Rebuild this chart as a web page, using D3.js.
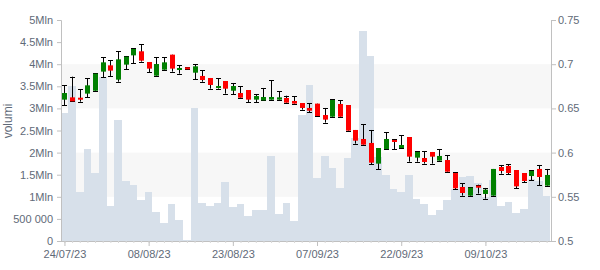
<!DOCTYPE html>
<html>
<head>
<meta charset="utf-8">
<script src="https://cdn.jsdelivr.net/npm/d3@7"></script>
<style>
    html, body { margin: 0; padding: 0; background: #fff; }
    #chart { width: 600px; height: 270px; }
    text { font-family: 'Liberation Sans', Arial, sans-serif; }
</style>
</head>
<body>
<div id="chart"></div>
<script>
// Trading days (dd/mm/yy)
const dates = [
    '24/07/23', '25/07/23', '26/07/23', '27/07/23', '28/07/23', '31/07/23',
    '01/08/23', '02/08/23', '03/08/23', '04/08/23', '07/08/23', '08/08/23',
    '09/08/23', '10/08/23', '11/08/23', '14/08/23', '15/08/23', '16/08/23',
    '17/08/23', '18/08/23', '21/08/23', '22/08/23', '23/08/23', '24/08/23',
    '25/08/23', '28/08/23', '29/08/23', '30/08/23', '31/08/23', '01/09/23',
    '04/09/23', '05/09/23', '06/09/23', '07/09/23', '08/09/23', '11/09/23',
    '12/09/23', '13/09/23', '14/09/23', '15/09/23', '18/09/23', '19/09/23',
    '20/09/23', '21/09/23', '22/09/23', '25/09/23', '26/09/23', '27/09/23',
    '28/09/23', '29/09/23', '02/10/23', '03/10/23', '04/10/23', '05/10/23',
    '06/10/23', '09/10/23', '10/10/23', '11/10/23', '12/10/23', '13/10/23',
    '16/10/23', '17/10/23', '18/10/23', '19/10/23'
];

const openPrices = [
    0.6599, 0.6625, 0.6621, 0.6667, 0.6700, 0.6916, 0.6987, 0.6825, 0.6995, 0.7100,
    0.7146, 0.7025, 0.6870, 0.6938, 0.7108, 0.6938, 0.6965, 0.6904, 0.6867, 0.6844,
    0.6731, 0.6810, 0.6700, 0.6674, 0.6708, 0.6599, 0.6591, 0.6599, 0.6599, 0.6618,
    0.6584, 0.6561, 0.6505, 0.6554, 0.6425, 0.6406, 0.6550, 0.6538, 0.6256, 0.6154,
    0.6109, 0.5875, 0.6041, 0.6143, 0.6052, 0.6176, 0.5943, 0.5939, 0.6007, 0.5909,
    0.5916, 0.5769, 0.5611, 0.5513, 0.5626, 0.5532, 0.5513, 0.5837, 0.5849, 0.5803,
    0.5769, 0.5735, 0.5815, 0.5626
];

const highPrices = [
    0.6761, 0.6859, 0.6716, 0.6840, 0.6900, 0.7078, 0.7047, 0.7146, 0.7093, 0.7180,
    0.7225, 0.7025, 0.7078, 0.7078, 0.7108, 0.6987, 0.6965, 0.7002, 0.6931, 0.6844,
    0.6840, 0.6810, 0.6784, 0.6750, 0.6708, 0.6663, 0.6731, 0.6821, 0.6697, 0.6644,
    0.6637, 0.6561, 0.6561, 0.6554, 0.6505, 0.6603, 0.6595, 0.6538, 0.6256, 0.6320,
    0.6256, 0.6052, 0.6229, 0.6154, 0.6195, 0.6176, 0.6018, 0.6018, 0.6007, 0.6041,
    0.5973, 0.5780, 0.5656, 0.5611, 0.5637, 0.5600, 0.5815, 0.5860, 0.5871, 0.5803,
    0.5769, 0.5803, 0.5860, 0.5815
];

const lowPrices = [
    0.6535, 0.6580, 0.6576, 0.6625, 0.6700, 0.6851, 0.6867, 0.6802, 0.6942, 0.7010,
    0.7029, 0.6908, 0.6870, 0.6938, 0.6916, 0.6893, 0.6942, 0.6829, 0.6802, 0.6723,
    0.6723, 0.6667, 0.6659, 0.6621, 0.6569, 0.6569, 0.6591, 0.6599, 0.6599, 0.6565,
    0.6554, 0.6486, 0.6455, 0.6414, 0.6339, 0.6406, 0.6406, 0.6248, 0.6101, 0.6090,
    0.5867, 0.5811, 0.6041, 0.6041, 0.6052, 0.5897, 0.5897, 0.5875, 0.5875, 0.5909,
    0.5784, 0.5584, 0.5513, 0.5513, 0.5536, 0.5479, 0.5513, 0.5762, 0.5754, 0.5596,
    0.5667, 0.5690, 0.5630, 0.5626
];

const closePrices = [
    0.6674, 0.6580, 0.6599, 0.6761, 0.6893, 0.7021, 0.6927, 0.7055, 0.7085, 0.7172,
    0.7040, 0.6950, 0.7002, 0.7021, 0.6950, 0.6957, 0.6942, 0.6976, 0.6821, 0.6765,
    0.6753, 0.6723, 0.6753, 0.6621, 0.6599, 0.6640, 0.6629, 0.6629, 0.6625, 0.6565,
    0.6554, 0.6505, 0.6474, 0.6414, 0.6373, 0.6595, 0.6406, 0.6248, 0.6135, 0.6090,
    0.5886, 0.6052, 0.6154, 0.6120, 0.6086, 0.5954, 0.6007, 0.5894, 0.5954, 0.5962,
    0.5784, 0.5596, 0.5543, 0.5603, 0.5603, 0.5581, 0.5815, 0.5792, 0.5769, 0.5618,
    0.5679, 0.5792, 0.5724, 0.5747
];

// Volumes in millions
const volumes = [
    2.89, 3.51, 1.11, 2.08, 1.54, 3.70, 0.80, 2.74, 1.36, 1.27,
    0.93, 1.11, 0.66, 0.41, 0.84, 0.48, 0.02, 3.00, 0.86, 0.79,
    0.86, 1.33, 0.77, 0.84, 0.57, 0.70, 0.70, 1.92, 0.61, 0.86,
    0.45, 2.85, 3.53, 1.42, 1.92, 1.65, 1.20, 1.88, 2.33, 4.75,
    4.19, 1.91, 1.49, 1.18, 1.11, 1.49, 0.95, 0.84, 0.59, 0.70,
    0.93, 1.18, 1.45, 1.47, 1.31, 0.99, 1.38, 0.79, 0.88, 0.63,
    0.72, 1.40, 1.35, 1.02
];

// Axis ticks
const volumeTicks = [0, 0.5, 1, 1.5, 2, 2.5, 3, 3.5, 4, 4.5, 5];
const priceTicks = [0.5, 0.55, 0.6, 0.65, 0.7, 0.75];
const dateTickIndex = [0, 11, 22, 33, 44, 55];
const priceBands = [[0.55, 0.6], [0.65, 0.7]];

class CandleChart {
    constructor() {
        this.left = 61;
        this.right = 552;
        this.top = 20;
        this.bottom = 241;
        this.textColor = '#5f6a78';
        this.lineColor = '#c0c0c0';
    }

    draw() {
        const svg = d3.select('#chart').append('svg')
            .attr('width', 600)
            .attr('height', 270);

        // Scales
        const x = d3.scaleLinear()
            .domain([-0.45, dates.length - 0.3])
            .range([this.left, this.right]);
        const yVol = d3.scaleLinear().domain([0, 5]).range([this.bottom, this.top]);
        const yPrice = d3.scaleLinear().domain([0.5, 0.75]).range([this.bottom, this.top]);
        const step = x(1) - x(0);

        svg.append('clipPath').attr('id', 'plot-clip')
            .append('rect')
            .attr('x', this.left)
            .attr('y', this.top)
            .attr('width', this.right - this.left)
            .attr('height', this.bottom - this.top);

        const plot = svg.append('g').attr('clip-path', 'url(#plot-clip)');

        // Background bands on price axis
        plot.selectAll('rect.band')
            .data(priceBands)
            .enter()
            .append('rect')
            .attr('class', 'band')
            .attr('x', this.left)
            .attr('width', this.right - this.left)
            .attr('y', d => yPrice(d[1]))
            .attr('height', d => yPrice(d[0]) - yPrice(d[1]))
            .attr('fill', '#f7f7f7');

        // Volume columns
        plot.selectAll('rect.vol')
            .data(volumes)
            .enter()
            .append('rect')
            .attr('class', 'vol')
            .attr('x', (d, i) => Math.round(x(i) - step / 2))
            .attr('width', (d, i) => Math.round(x(i) + step / 2) - Math.round(x(i) - step / 2))
            .attr('y', d => yVol(d))
            .attr('height', d => this.bottom - yVol(d))
            .attr('fill', '#d7e0ea')
            .attr('shape-rendering', 'crispEdges');

        // Candles
        const candles = plot.selectAll('g.candle')
            .data(dates.map((d, i) => ({
                i: i,
                open: openPrices[i],
                high: highPrices[i],
                low: lowPrices[i],
                close: closePrices[i]
            })))
            .enter()
            .append('g')
            .attr('class', 'candle')
            .attr('transform', d => `translate(${Math.round(x(d.i))},0)`);

        candles.append('line')
            .attr('x1', 0.5).attr('x2', 0.5)
            .attr('y1', d => yPrice(d.high))
            .attr('y2', d => yPrice(d.low))
            .attr('stroke', '#000')
            .attr('stroke-width', 1);

        ['high', 'low'].forEach(key => {
            candles.append('line')
                .attr('x1', -2).attr('x2', 3)
                .attr('y1', d => Math.round(yPrice(d[key])) + 0.5)
                .attr('y2', d => Math.round(yPrice(d[key])) + 0.5)
                .attr('stroke', '#000')
                .attr('stroke-width', 1);
        });

        candles.append('rect')
            .attr('x', -2)
            .attr('width', 5)
            .attr('y', d => yPrice(Math.max(d.open, d.close)))
            .attr('height', d => Math.max(2, Math.abs(yPrice(d.open) - yPrice(d.close))))
            .attr('fill', d => d.close >= d.open ? '#008000' : '#ff0000');

        // Left axis (volume)
        const leftAxis = svg.append('g')
            .attr('transform', `translate(${this.left},0)`)
            .call(d3.axisLeft(yVol)
                .tickValues(volumeTicks)
                .tickSize(4)
                .tickPadding(4)
                .tickFormat(v => v === 0 ? '0' : v === 0.5 ? '500 000' : `${v}Mln`));
        this.styleAxis(leftAxis);

        // Right axis (price)
        const rightAxis = svg.append('g')
            .attr('transform', `translate(${this.right - 1},0)`)
            .call(d3.axisRight(yPrice)
                .tickValues(priceTicks)
                .tickSize(5)
                .tickPadding(2)
                .tickFormat(v => String(+v.toFixed(2))));
        this.styleAxis(rightAxis);

        // Bottom axis: minor ticks for each day, labelled major ticks
        const minorAxis = svg.append('g')
            .attr('transform', `translate(0,${this.bottom})`)
            .call(d3.axisBottom(x)
                .tickValues(d3.range(dates.length))
                .tickSize(2)
                .tickFormat(''));
        this.styleAxis(minorAxis);
        minorAxis.selectAll('.tick line').attr('stroke', '#d8d8d8');
        minorAxis.select('.domain').attr('d', `M${this.left},0.5H${this.right}`);

        const bottomAxis = svg.append('g')
            .attr('transform', `translate(0,${this.bottom})`)
            .call(d3.axisBottom(x)
                .tickValues(dateTickIndex)
                .tickSize(5)
                .tickPadding(4)
                .tickFormat(i => dates[i]));
        this.styleAxis(bottomAxis);
        bottomAxis.select('.domain').remove();

        // Y-axis title
        svg.append('text')
            .attr('transform', 'translate(12,121) rotate(-90)')
            .attr('text-anchor', 'middle')
            .attr('fill', this.textColor)
            .style('font-size', '12px')
            .text('volumi');
    }

    styleAxis(g) {
        g.select('.domain').attr('stroke', this.lineColor);
        g.selectAll('.tick line').attr('stroke', this.lineColor);
        g.selectAll('.tick text')
            .attr('fill', this.textColor)
            .style('font-size', '11px')
            .style('font-family', "'Liberation Sans', Arial, sans-serif");
    }
}

document.addEventListener('DOMContentLoaded', () => {
    const chart = new CandleChart();
    chart.draw();
});
</script>
</body>
</html>
